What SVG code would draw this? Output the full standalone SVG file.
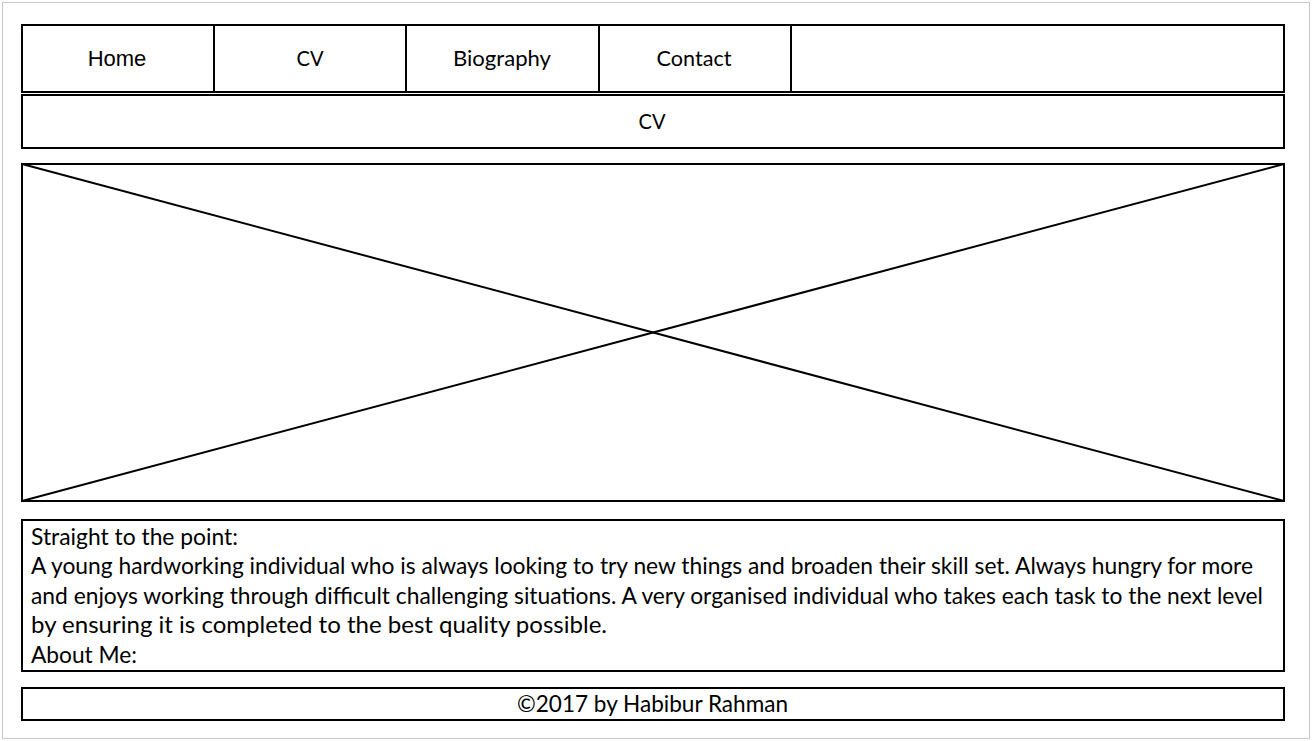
<svg xmlns="http://www.w3.org/2000/svg" width="1312" height="741" viewBox="0 0 1312 741">
  <style>
    .box { fill: #ffffff; stroke: #000000; stroke-width: 2; }
    .rule { stroke: #000000; stroke-width: 2; fill: none; }
    .nav-a { font-family: "Liberation Sans", Arial, sans-serif; font-size: 22px; fill: #000; text-anchor: middle; }
    .nav-c { font-family: Lato, "Open Sans", sans-serif; font-size: 22px; fill: #000; text-anchor: middle; }
    .body { font-family: Lato, "Open Sans", sans-serif; font-size: 23px; fill: #000; }
  </style>

  <!-- page background and dotted page edge -->
  <rect x="0" y="0" width="1312" height="741" fill="#ffffff"/>
  <rect x="2.5" y="2.5" width="1307" height="736" fill="none" stroke="#8c8c8c" stroke-width="1" stroke-dasharray="1,1"/>

  <!-- navigation bar -->
  <g id="nav">
    <rect class="box" x="22" y="25" width="1262" height="67"/>
    <line class="rule" x1="214" y1="25" x2="214" y2="92"/>
    <line class="rule" x1="406" y1="25" x2="406" y2="92"/>
    <line class="rule" x1="599" y1="25" x2="599" y2="92"/>
    <line class="rule" x1="791" y1="25" x2="791" y2="92"/>
  </g>
  <g id="nav-home"><text class="nav-a" x="117" y="66">Home</text></g>
  <g id="nav-cv"><text class="nav-c" x="310" y="66" textLength="27" lengthAdjust="spacingAndGlyphs">CV</text></g>
  <g id="nav-biography"><text class="nav-c" x="502" y="66" textLength="98" lengthAdjust="spacingAndGlyphs">Biography</text></g>
  <g id="nav-contact"><text class="nav-c" x="694" y="66" textLength="75" lengthAdjust="spacingAndGlyphs">Contact</text></g>

  <!-- page title bar -->
  <g id="title">
    <rect class="box" x="22" y="95" width="1262" height="53"/>
    <text class="nav-c" x="652" y="129" textLength="27" lengthAdjust="spacingAndGlyphs">CV</text>
  </g>

  <!-- image placeholder -->
  <g id="image">
    <rect class="box" x="22" y="164" width="1262" height="337"/>
  </g>
  <g id="connectors">
    <line class="rule" x1="22" y1="164" x2="1284" y2="501"/>
    <line class="rule" x1="22" y1="501" x2="1284" y2="164"/>
  </g>

  <!-- text content -->
  <g id="content">
    <rect class="box" x="22" y="520" width="1262" height="151"/>
    <text class="body" x="31" y="545" textLength="207" lengthAdjust="spacingAndGlyphs">Straight to the point:</text>
    <text class="body" x="31" y="574" textLength="1222" lengthAdjust="spacingAndGlyphs">A young hardworking individual who is always looking to try new things and broaden their skill set. Always hungry for more</text>
    <text class="body" x="31" y="604" textLength="1232" lengthAdjust="spacingAndGlyphs">and enjoys working through difficult challenging situations. A very organised individual who takes each task to the next level</text>
    <text class="body" x="31" y="633" textLength="576" lengthAdjust="spacingAndGlyphs">by ensuring it is completed to the best quality possible.</text>
    <text class="body" x="31" y="663" textLength="106" lengthAdjust="spacingAndGlyphs">About Me:</text>
  </g>

  <!-- footer -->
  <g id="footer">
    <rect class="box" x="22" y="688" width="1262" height="32"/>
    <text class="body" x="652.5" y="712" text-anchor="middle" textLength="271" lengthAdjust="spacingAndGlyphs">©2017 by Habibur Rahman</text>
  </g>
</svg>
